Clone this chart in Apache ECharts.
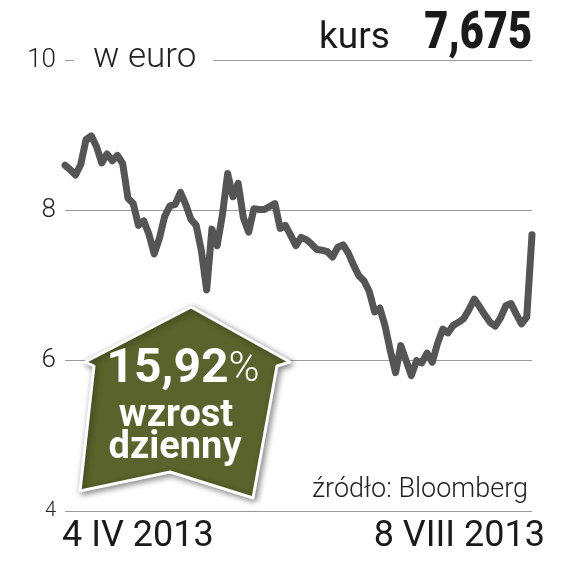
<!DOCTYPE html>
<html><head><meta charset="utf-8">
<script src="https://cdn.jsdelivr.net/npm/echarts@6/dist/echarts.min.js"></script>
<style>html,body{margin:0;padding:0;background:#fff}#c{width:579px;height:565px}</style>
</head><body><div id="c"></div>
<script>
// Daily closing price, 4 IV 2013 – 8 VIII 2013 (EUR)
const prices = [
  8.60, 8.54, 8.47, 8.61, 8.94, 8.99, 8.85, 8.63, 8.75, 8.66,
  8.73, 8.62, 8.16, 8.09, 7.80, 7.86, 7.68, 7.42, 7.63, 7.92,
  8.06, 8.08, 8.24, 8.08, 7.88, 7.80, 7.46, 6.94, 7.75, 7.53,
  7.94, 8.49, 8.18, 8.36, 7.90, 7.71, 8.02, 8.01, 8.01, 8.05,
  8.09, 7.76, 7.80, 7.67, 7.53, 7.64, 7.61, 7.55, 7.48, 7.47,
  7.45, 7.38, 7.51, 7.54, 7.43, 7.27, 7.13, 7.06, 6.92, 6.65,
  6.70, 6.46, 6.13, 5.84, 6.20, 6.00, 5.80, 6.00, 5.97, 6.10,
  5.98, 6.23, 6.42, 6.37, 6.47, 6.51, 6.56, 6.68, 6.82, 6.72,
  6.61, 6.51, 6.46, 6.57, 6.73, 6.76, 6.62, 6.49, 6.58, 7.675
];
const xTickLabels = ['4 IV 2013', '8 VIII 2013'];
const yMin = 4, yMax = 10, yStep = 2;
const unitLabel = 'w euro';
const priceLabel = 'kurs';
const priceValue = '7,675';
const changeValue = '15,92';
const changeWords = ['wzrost', 'dzienny'];
const sourceLabel = 'źródło: Bloomberg';

const n = prices.length;
const days = prices.map((_, i) => i === 0 ? xTickLabels[0] : (i === n - 1 ? xTickLabels[1] : 'd' + i));

const FONT = 'Roboto, "Open Sans", "DejaVu Sans", sans-serif';
const chart = echarts.init(document.getElementById('c'), null, {renderer: 'canvas'});
chart.setOption({
  animation: false,
  backgroundColor: '#ffffff',
  grid: {left: 65, right: 47, top: 60, bottom: 54, containLabel: false},
  xAxis: {
    type: 'category', data: days, boundaryGap: false,
    axisLine: {show: false}, axisTick: {show: false}, splitLine: {show: false},
    axisLabel: {
      interval: (i) => i === 0 || i === n - 1,
      showMinLabel: true, showMaxLabel: true,
      alignMinLabel: 'left', alignMaxLabel: 'right',
      margin: 6,
      formatter: (v, i) => i === 0 ? '{a|' + v + '}' : '{b|' + v + '}',
      rich: {
        a: {fontFamily: FONT, fontSize: 36, color: '#1a1a1a', lineHeight: 40, padding: [0, 0, 0, -3]},
        b: {fontFamily: FONT, fontSize: 36, color: '#1a1a1a', lineHeight: 40, padding: [0, -13, 0, 0]}
      }
    }
  },
  yAxis: {
    type: 'value', min: yMin, max: yMax, interval: yStep,
    axisLine: {show: false}, axisTick: {show: false},
    splitLine: {show: true, lineStyle: {color: '#9a9a9a', width: 1}},
    axisLabel: {
      margin: 9,
      formatter: (v) => v === yMin ? '{s|' + v + '}' : '{m|' + v + '}',
      rich: {
        m: {fontFamily: FONT, fontSize: 26, fontWeight: 300, color: '#222'},
        s: {fontFamily: FONT, fontSize: 20, fontWeight: 300, color: '#222'}
      }
    }
  },
  series: [{
    type: 'line', data: prices, symbol: 'none', smooth: false,
    lineStyle: {color: '#555555', width: 7, cap: 'round', join: 'round'},
    z: 3
  }],
  graphic: [
    {type: 'rect', z: 50, shape: {x: 74, y: 52, width: 139, height: 16}, style: {fill: '#ffffff'}},
    {type: 'text', z: 51, x: 93, y: 58, style: {text: unitLabel, fontFamily: FONT, fontSize: 35, fontWeight: 300, fill: '#222', align: 'left', verticalAlign: 'middle'}},
    {type: 'text', z: 51, x: 319, y: 39, style: {text: priceLabel, fontFamily: FONT, fontSize: 37, fill: '#1a1a1a', align: 'left', verticalAlign: 'middle'}},
    {type: 'text', z: 51, x: 532, y: 35, scaleX: 0.8, style: {text: priceValue, fontFamily: FONT, fontSize: 52, fontWeight: 900, fill: '#1a1a1a', align: 'right', verticalAlign: 'middle'}},
    {type: 'text', z: 51, x: 528, y: 490, style: {text: sourceLabel, fontFamily: FONT, fontSize: 27, fontWeight: 300, fill: '#222', align: 'right', verticalAlign: 'middle'}},
    {type: 'polygon', z: 60,
      shape: {points: [[191,307],[290,362],[277,366],[253,498],[170,472],[80,491],[94,366],[85,362]]},
      style: {fill: '#5a632b', stroke: '#ffffff', lineWidth: 3, lineJoin: 'round',
              shadowBlur: 6, shadowOffsetX: 2, shadowOffsetY: 2, shadowColor: 'rgba(0,0,0,0.45)'}},
    {type: 'text', z: 61, x: 183, y: 370, style: {
      text: '{a|' + changeValue + '}{b|%}', align: 'center', verticalAlign: 'middle',
      rich: {
        a: {fontFamily: FONT, fontSize: 48, fontWeight: 'bold', fill: '#ffffff', color: '#ffffff'},
        b: {fontFamily: FONT, fontSize: 42, fontWeight: 300, fill: '#ffffff', color: '#ffffff'}
      }}},
    {type: 'text', z: 61, x: 176, y: 416, style: {text: changeWords[0], fontFamily: FONT, fontSize: 38, fontWeight: 'bold', fill: '#ffffff', align: 'center', verticalAlign: 'middle'}},
    {type: 'text', z: 61, x: 175, y: 448, style: {text: changeWords[1], fontFamily: FONT, fontSize: 38, fontWeight: 'bold', fill: '#ffffff', align: 'center', verticalAlign: 'middle'}}
  ]
});
</script>
</body></html>
